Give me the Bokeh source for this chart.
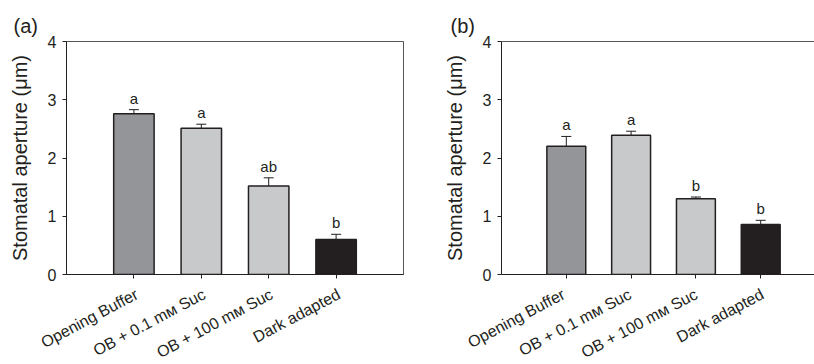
import math
from bokeh.plotting import figure
from bokeh.layouts import row, column
from bokeh.models import (Range1d, FixedTicker, Whisker, TeeHead, ColumnDataSource,
                          Title, LinearAxis)
from bokeh.embed import file_html
from bokeh.resources import INLINE
from bokeh.core.properties import value

categories = ["Opening Buffer", "OB + 0.1 mᴍ Suc", "OB + 100 mᴍ Suc", "Dark adapted"]
positions = [1, 2, 3, 4]
colors = ["#939598", "#c8c9cb", "#c8c9cb", "#231f20"]

a_values = [2.76, 2.51, 1.52, 0.60]
a_errors = [0.07, 0.07, 0.14, 0.09]
a_letters = ["a", "a", "ab", "b"]

b_values = [2.20, 2.39, 1.30, 0.86]
b_errors = [0.17, 0.07, 0.03, 0.07]
b_letters = ["a", "a", "b", "b"]

FONT = "Liberation Sans"
INK = "#231f20"

# layout geometry (pixels)
CHART_H = 282
LABEL_H = 82
A_W, B_W = 440, 374
A_LEFT, A_RIGHT, A_TOP = 66, 37, 40
B_LEFT, B_RIGHT, B_TOP = 54, 0, 41
A_XEND, B_XEND = 5.0, 4.83


def panel(vals, errs, letters, tag, tag_offset, width, border_left, border_right,
          border_top, border_bottom, x_end, full_box):
    p = figure(width=width, height=CHART_H, output_backend="svg", toolbar_location=None,
               x_range=Range1d(0, x_end), y_range=Range1d(0, 4),
               min_border_left=border_left, min_border_right=border_right,
               min_border_top=border_top, min_border_bottom=border_bottom)
    p.grid.visible = False
    p.background_fill_color = "white"
    p.border_fill_color = "white"
    if full_box:
        p.outline_line_color = "#555555"
        p.outline_line_width = 1
    else:
        p.outline_line_color = None

    src = ColumnDataSource(dict(x=positions, top=vals, color=colors,
                                upper=[v + e for v, e in zip(vals, errs)],
                                letter=letters))
    p.vbar(x="x", top="top", width=0.6, bottom=0, source=src, fill_color="color",
           line_color=INK, line_width=1.5)
    w = Whisker(base="x", lower="top", upper="upper", source=src, dimension="height",
                line_color=INK, line_width=1,
                upper_head=TeeHead(size=10, line_color=INK, line_width=1),
                lower_head=None)
    p.add_layout(w)
    p.text(x="x", y="upper", text="letter", source=src, text_align="center",
           text_baseline="bottom", y_offset=-3, text_font=value(FONT),
           text_font_size="15px", text_color=INK)

    # bottom axis: ticks only (its labels are drawn in the strip below)
    xa = p.below[0]
    xa.ticker = FixedTicker(ticks=positions)
    xa.major_label_overrides = {pos: "" for pos in positions}
    xa.major_label_text_font_size = "0px"
    xa.major_label_standoff = 0
    xa.major_tick_in = 0
    xa.major_tick_out = 4
    xa.minor_tick_line_color = None
    xa.axis_line_color = INK
    xa.major_tick_line_color = INK

    if not full_box:
        top = LinearAxis(ticker=FixedTicker(ticks=[]), major_label_text_font_size="0px",
                         axis_line_color="#555555", major_tick_line_color=None,
                         minor_tick_line_color=None, major_label_standoff=0)
        p.add_layout(top, "above")

    ya = p.left[0]
    ya.ticker = FixedTicker(ticks=[0, 1, 2, 3, 4])
    ya.major_label_text_font = FONT
    ya.major_label_text_font_size = "16px"
    ya.major_label_text_color = INK
    ya.major_label_standoff = 6
    ya.major_tick_in = 0
    ya.major_tick_out = 4
    ya.minor_tick_line_color = None
    ya.axis_line_color = INK
    ya.major_tick_line_color = INK
    ya.axis_label = "Stomatal aperture (μm)"
    ya.axis_label_text_font = FONT
    ya.axis_label_text_font_style = "normal"
    ya.axis_label_text_font_size = "20px"
    ya.axis_label_text_color = INK
    ya.axis_label_standoff = 14

    t = Title(text=tag, align="left", offset=tag_offset, standoff=9,
              text_font=FONT, text_font_size="20px", text_font_style="normal",
              text_color=INK)
    p.add_layout(t, "above")
    return p


pa = panel(a_values, a_errors, a_letters, "(a)", -53, A_W, A_LEFT, A_RIGHT, A_TOP,
           CHART_H - 274, A_XEND, True)
pb = panel(b_values, b_errors, b_letters, "(b)", -51, B_W, B_LEFT, B_RIGHT, B_TOP,
           CHART_H - 277, B_XEND, False)

# strip of rotated category labels below both panels (x in page pixels)
a_scale = (A_W - A_LEFT - A_RIGHT) / A_XEND
b_scale = (B_W - B_LEFT - B_RIGHT) / B_XEND
lab_x = [A_LEFT + pos * a_scale for pos in positions] + \
        [A_W + B_LEFT + pos * b_scale for pos in positions]
lab_src = ColumnDataSource(dict(x=lab_x, y=[LABEL_H] * len(lab_x),
                                text=categories + categories))
lf = figure(width=A_W + B_W, height=LABEL_H, output_backend="svg", toolbar_location=None,
            x_range=Range1d(0, A_W + B_W), y_range=Range1d(0, LABEL_H),
            min_border=0, min_border_left=0, min_border_right=0,
            min_border_top=0, min_border_bottom=0)
lf.axis.visible = False
lf.grid.visible = False
lf.outline_line_color = None
lf.text(x="x", y="y", text="text", source=lab_src, angle=math.radians(28),
        text_align="right", text_baseline="top", x_offset=-1, y_offset=3,
        text_font=value(FONT), text_font_size="16px", text_color=INK)

layout = column(row(pa, pb), lf)
open("out.html", "w").write(file_html(layout, INLINE))
